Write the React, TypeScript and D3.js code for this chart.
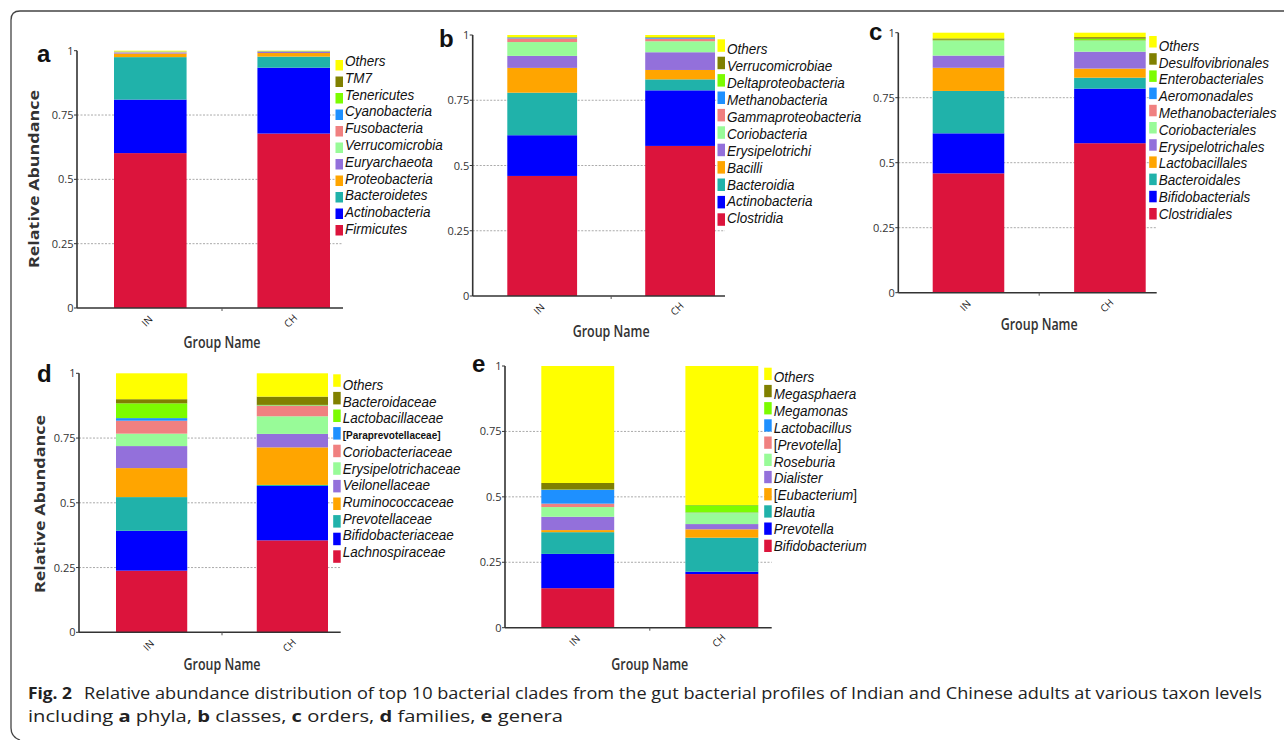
import React from 'react'
import * as d3 from 'd3'

const groups = ['IN', 'CH']
const yTicks = [0, 0.25, 0.5, 0.75, 1]
const yTickLabels = ['0', '0.25', '0.5', '0.75', '1']

// one colour per stack position, bottom first, Others last
const palette = ['#dc143c', '#0000ff', '#20b2aa', '#ffa500', '#9370db', '#98fb98', '#f08080', '#1e90ff', '#7cfc00', '#808000', '#ffff00']

// a: phyla
const phyla = ['Firmicutes', 'Actinobacteria', 'Bacteroidetes', 'Proteobacteria', 'Euryarchaeota', 'Verrucomicrobia', 'Fusobacteria', 'Cyanobacteria', 'Tenericutes', 'TM7', 'Others']
const phylaIN = [0.602, 0.208, 0.165, 0.014, 0.004, 0.001, 0.001, 0.001, 0.0005, 0.0005, 0.003]
const phylaCH = [0.678, 0.256, 0.043, 0.014, 0.004, 0.001, 0.001, 0.0005, 0.0005, 0.001, 0.001]

// b: classes
const classes = ['Clostridia', 'Actinobacteria', 'Bacteroidia', 'Bacilli', 'Erysipelotrichi', 'Coriobacteria', 'Gammaproteobacteria', 'Methanobacteria', 'Deltaproteobacteria', 'Verrucomicrobiae', 'Others']
const classesIN = [0.46, 0.156, 0.163, 0.095, 0.046, 0.053, 0.014, 0.003, 0.001, 0.001, 0.008]
const classesCH = [0.575, 0.213, 0.042, 0.036, 0.068, 0.042, 0.01, 0.003, 0.001, 0.002, 0.008]

// c: orders
const orders = ['Clostridiales', 'Bifidobacterials', 'Bacteroidales', 'Lactobacillales', 'Erysipelotrichales', 'Coriobacteriales', 'Methanobacteriales', 'Aeromonadales', 'Enterobacteriales', 'Desulfovibrionales', 'Others']
const ordersIN = [0.459, 0.154, 0.163, 0.089, 0.047, 0.056, 0.001, 0.001, 0.003, 0.005, 0.022]
const ordersCH = [0.575, 0.21, 0.042, 0.035, 0.065, 0.041, 0.001, 0.001, 0.007, 0.006, 0.017]

// d: families
const families = ['Lachnospiraceae', 'Bifidobacteriaceae', 'Prevotellaceae', 'Ruminococcaceae', 'Veilonellaceae', 'Erysipelotrichaceae', 'Coriobacteriaceae', '[Paraprevotellaceae]', 'Lactobacillaceae', 'Bacteroidaceae', 'Others']
const familiesIN = [0.238, 0.154, 0.13, 0.112, 0.085, 0.048, 0.05, 0.01, 0.057, 0.016, 0.1]
const familiesCH = [0.355, 0.21, 0.004, 0.145, 0.052, 0.068, 0.041, 0.001, 0.002, 0.032, 0.09]

// e: genera
const genera = ['Bifidobacterium', 'Prevotella', 'Blautia', '[Eubacterium]', 'Dialister', 'Roseburia', '[Prevotella]', 'Lactobacillus', 'Megamonas', 'Megasphaera', 'Others']
const generaIN = [0.151, 0.131, 0.083, 0.008, 0.051, 0.037, 0.013, 0.053, 0.001, 0.025, 0.447]
const generaCH = [0.205, 0.009, 0.13, 0.032, 0.02, 0.042, 0.001, 0.001, 0.028, 0.001, 0.531]

const panels = [
  { tag: 'a', tagX: 37, tagY: 62, names: phyla, values: [phylaIN, phylaCH], axisX: 77, xEnd: 343, bar0: 114, bar1: 330, top: 50.7, bottom: 308, legY: 61, legStep: 16.8, sqY: 60, sqStep: 16.5, sqH: 10.5, yLabel: [33, 179], nameY: 348 },
  { tag: 'b', tagX: 439, tagY: 46.5, names: classes, values: [classesIN, classesCH], axisX: 472.7, xEnd: 725, bar0: 507.3, bar1: 715, top: 35, bottom: 296, legY: 49.3, legStep: 16.9, sqY: 39.3, sqStep: 17.4, sqH: 12.5, yLabel: null, nameY: 337 },
  { tag: 'c', tagX: 869, tagY: 40, names: orders, values: [ordersIN, ordersCH], axisX: 898.3, xEnd: 1156.7, bar0: 932.7, bar1: 1145.7, top: 32.7, bottom: 292.7, legY: 45.7, legStep: 16.8, sqY: 36, sqStep: 17.2, sqH: 11.5, yLabel: null, nameY: 330 },
  { tag: 'd', tagX: 37, tagY: 382, names: families, values: [familiesIN, familiesCH], axisX: 79, xEnd: 340.7, bar0: 116, bar1: 328, top: 373.3, bottom: 632.3, legY: 385, legStep: 16.7, sqY: 374.3, sqStep: 17.6, sqH: 12.5, yLabel: [38.5, 504], nameY: 670 },
  { tag: 'e', tagX: 472, tagY: 372, names: genera, values: [generaIN, generaCH], axisX: 505, xEnd: 771.7, bar0: 541.3, bar1: 758.3, top: 366, bottom: 627.7, legY: 377, legStep: 16.9, sqY: 367.7, sqStep: 17.2, sqH: 12.3, yLabel: null, nameY: 670 },
]

const legendFont = '"Liberation Sans", Arial, sans-serif'
const axisFont = '"Open Sans", sans-serif'

// legend text is drawn a little taller than wide, as in the source figure
const LegendLabel = ({ name, x, y }) => {
  const tr = `translate(${x}, ${y + 5}) scale(1, 1.12)`
  if (name === '[Paraprevotellaceae]') {
    return (
      <text transform={`translate(${x}, ${y + 4})`} fontFamily={legendFont} fontSize={10} fontWeight="bold" fill="#111">
        {name}
      </text>
    )
  }
  if (name.startsWith('[')) {
    return (
      <text transform={tr} fontFamily={legendFont} fontSize={13.5} fill="#111">
        [<tspan fontStyle="italic">{name.slice(1, -1)}</tspan>]
      </text>
    )
  }
  return (
    <text transform={tr} fontFamily={legendFont} fontSize={13.5} fontStyle="italic" fill="#111">
      {name}
    </text>
  )
}

const Panel = ({ p }) => {
  const y = d3.scaleLinear().domain([0, 1]).range([p.bottom, p.top])
  const x = d3.scaleBand().domain(groups).range([p.bar0, p.bar1]).paddingInner(0.494).paddingOuter(0)
  const rows = groups.map((g, gi) => {
    const r: any = { group: g }
    p.names.forEach((n, i) => (r[n] = p.values[gi][i]))
    return r
  })
  const series = d3.stack().keys(p.names)(rows)
  const midX = (x('IN') + x('CH') + x.bandwidth()) / 2

  return (
    <g>
      {yTicks.slice(1, 4).map((t) => (
        <line key={t} x1={p.axisX} x2={p.xEnd} y1={y(t)} y2={y(t)} stroke="#aaa" strokeWidth={1} strokeDasharray="2 1.5" />
      ))}
      {series.map((s, si) =>
        s.map((d) => (
          <rect
            key={p.tag + si + d.data.group}
            x={x(d.data.group)}
            y={y(d[1])}
            width={x.bandwidth()}
            height={Math.max(0, y(d[0]) - y(d[1]))}
            fill={palette[si]}
          />
        ))
      )}
      <line x1={p.axisX} x2={p.axisX} y1={y(1)} y2={y(0)} stroke="#333" strokeWidth={1.6} />
      <line x1={p.axisX} x2={p.xEnd} y1={y(0)} y2={y(0)} stroke="#333" strokeWidth={1.6} />
      <line x1={midX} x2={midX} y1={y(0)} y2={y(0) + 3} stroke="#555" strokeWidth={1} />
      {yTicks.map((t, i) => (
        <g key={t}>
          <line x1={p.axisX - 3} x2={p.axisX} y1={y(t)} y2={y(t)} stroke="#333" strokeWidth={1} />
          <text x={p.axisX - 3.5} y={y(t) + 4} textAnchor="end" fontFamily={axisFont} fontSize={11} fill="#333">
            {yTickLabels[i]}
          </text>
        </g>
      ))}
      {groups.map((g) => {
        const cx = x(g) + x.bandwidth() / 2 - 3
        const cy = y(0) + 13
        return (
          <text key={g} x={cx} y={cy + 3.5} textAnchor="middle" fontFamily={axisFont} fontSize={10} fill="#222" transform={`rotate(-45, ${cx}, ${cy})`}>
            {g}
          </text>
        )
      })}
      <text x={midX} y={p.nameY} textAnchor="middle" fontFamily={axisFont} fontSize={17} fontWeight="600" fill="#333" textLength={77} lengthAdjust="spacingAndGlyphs">
        Group Name
      </text>
      {p.yLabel && (
        <text
          x={p.yLabel[0]}
          y={p.yLabel[1]}
          textAnchor="middle"
          dominantBaseline="central"
          fontFamily={axisFont}
          fontSize={15}
          fontWeight="bold"
          fill="#333"
          textLength={178}
          lengthAdjust="spacingAndGlyphs"
          transform={`rotate(-90, ${p.yLabel[0]}, ${p.yLabel[1]})`}
        >
          Relative Abundance
        </text>
      )}
      {p.names.map((n, i) => {
        const k = p.names.length - 1 - i
        return (
          <g key={n}>
            <rect x={p.xEnd - 7.5} y={p.sqY + k * p.sqStep} width={7.5} height={p.sqH} fill={palette[i]} />
            <LegendLabel name={n} x={p.xEnd + 2} y={p.legY + k * p.legStep} />
          </g>
        )
      })}
      <text x={p.tagX} y={p.tagY} fontFamily={legendFont} fontSize={24} fontWeight="bold" fill="#111">
        {p.tag}
      </text>
    </g>
  )
}

export default function App() {
  return (
    <svg width={1284} height={740} style={{ position: 'absolute', left: 0, top: 0, background: '#fff' }}>
      <rect width={1284} height={740} fill="#fff" />
      <path d="M1284,11 H20 Q11,11 11,20 V728 Q11,737 20,740" fill="none" stroke="#444" strokeWidth={1.3} />
      {panels.map((p) => (
        <Panel key={p.tag} p={p} />
      ))}
      <text x={28} y={699} fontFamily={axisFont} fontSize={16} fontWeight="bold" fill="#222" textLength={44} lengthAdjust="spacingAndGlyphs">
        Fig. 2
      </text>
      <text x={84} y={699} fontFamily={axisFont} fontSize={16} fill="#222" textLength={1178} lengthAdjust="spacingAndGlyphs">
        Relative abundance distribution of top 10 bacterial clades from the gut bacterial profiles of Indian and Chinese adults at various taxon levels
      </text>
      <text x={28} y={722} fontFamily={axisFont} fontSize={16} fill="#222" textLength={535} lengthAdjust="spacingAndGlyphs">
        including <tspan fontWeight="bold">a</tspan> phyla, <tspan fontWeight="bold">b</tspan> classes, <tspan fontWeight="bold">c</tspan> orders, <tspan fontWeight="bold">d</tspan> families, <tspan fontWeight="bold">e</tspan> genera
      </text>
    </svg>
  )
}
